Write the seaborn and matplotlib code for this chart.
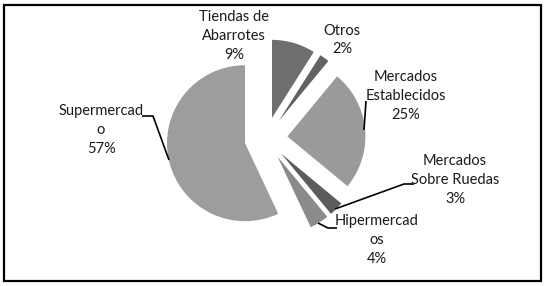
import matplotlib
matplotlib.use("Agg")
import matplotlib.pyplot as plt
import matplotlib.patches as mpatches
import seaborn as sns

# =========================
# DATA
# =========================
categories = ["Tiendas de Abarrotes", "Otros", "Mercados Establecidos",
              "Mercados Sobre Ruedas", "Hipermercados", "Supermercado"]
label_text = ["Tiendas de\nAbarrotes", "Otros", "Mercados\nEstablecidos",
              "Mercados\nSobre Ruedas", "Hipermercad\nos", "Supermercad\no"]
shares = [9, 2, 25, 3, 4, 57]
colors = ["#6e6e6e", "#626262", "#9a9a9a", "#5c5c5c", "#8b8b8b", "#9d9d9d"]

# =========================
# STYLE
# =========================
sns.set_style("white")
plt.rcParams["font.family"] = ["Lato", "DejaVu Sans"]

W, H = 547, 286
fig = plt.figure(figsize=(W / 100, H / 100), dpi=100)
ax = fig.add_axes([0, 0, 1, 1])

# pixel coords -> data coords (y up)
def P(x, y):
    return (x, H - y)

# =========================
# PIE
# =========================
ax.pie(shares, colors=colors, startangle=90, counterclock=False,
       center=P(266, 138.5), radius=78, explode=[21.5] * len(shares),
       wedgeprops=dict(linewidth=0))

ax.set_xlim(0, W)
ax.set_ylim(0, H)
ax.set_aspect("equal")
ax.axis("off")

# labels
label_pos = [(234, 36), (342, 40), (406, 96), (455, 180), (377, 240), (101, 130)]
for txt, pct, (lx, ly) in zip(label_text, shares, label_pos):
    ax.text(*P(lx, ly), f"{txt}\n{pct}%", ha="center", va="center",
            fontsize=10.5, color="#1a1a1a", linespacing=1.45)

# leader lines
leaders = [
    [(142, 116), (153, 116), (169, 160)],
    [(366, 101), (364, 130)],
    [(414, 184), (404, 184), (335, 209)],
    [(318, 223), (328, 228), (337, 228)],
]
for pts in leaders:
    xs, ys = zip(*[P(x, y) for x, y in pts])
    ax.plot(xs, ys, color="black", linewidth=1.2, solid_capstyle="butt")

# outer frame
fig.patches.append(mpatches.Rectangle((3.5 / W, 1 - 280.5 / H), 537.5 / W, 276 / H,
                                      transform=fig.transFigure, fill=False,
                                      edgecolor="black", linewidth=1.6))

plt.savefig("out.png", dpi=100)
